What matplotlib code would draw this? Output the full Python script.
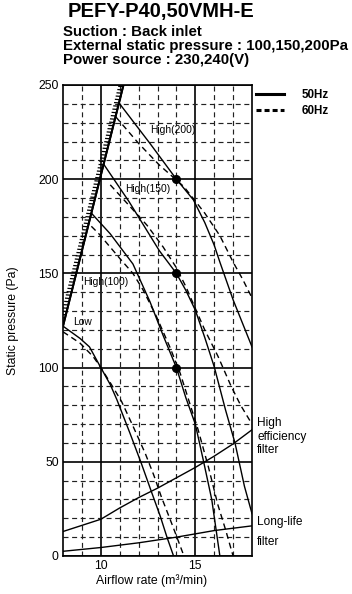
import numpy as np
import matplotlib
matplotlib.use("Agg")
import matplotlib.pyplot as plt
from matplotlib import patheffects
from matplotlib.lines import Line2D

plt.rcParams['font.family'] = ['Liberation Sans', 'DejaVu Sans']
plt.rcParams['lines.scale_dashes'] = False

# fan curves, solid = 50Hz, dashed = 60Hz
low_50_x = [8.0, 8.9, 9.4, 10.0, 10.5, 10.85, 11.55, 12.15, 12.7, 13.15, 13.5, 13.85]
low_50_y = [122, 115.5, 111, 100, 91, 83, 65, 49, 33.5, 21, 10, 0]
low_60_x = [8.0, 8.9, 9.6, 10.0, 10.5, 11.1, 11.7, 12.35, 12.8, 13.2, 13.8, 14.4]
low_60_y = [119, 113, 105.8, 100, 92, 82, 69, 54.5, 43, 31.5, 16, 0]

h100_50_x = [9.5, 10.5, 11.7, 12.6, 13.3, 14.0, 14.5, 15.0, 15.42, 15.87, 16.3]
h100_50_y = [182, 171, 155, 135, 117, 100, 84, 70, 51, 30, 0]
h100_60_x = [9.5, 9.9, 11.0, 11.7, 12.25, 12.95, 13.65, 14.2, 15.15, 15.7, 16.2, 16.6, 17.0]
h100_60_y = [175, 171, 158, 150, 141, 127, 111, 97, 67, 47, 27, 14, 0]

h150_50_x = [10.15, 11.5, 13.1, 14.0, 14.5, 15.0, 15.5, 16.0, 16.6, 17.1, 17.6, 18.0]
h150_50_y = [208, 188, 162, 150, 141, 130.5, 116, 100.5, 77.5, 60, 37, 22.5]
h150_60_x = [10.5, 11.5, 12.45, 13.3, 14.0, 14.5, 15.15, 15.5, 16.2, 16.9, 17.4, 18.0]
h150_60_y = [197, 186, 175.5, 164, 153, 143, 128, 120, 106, 90, 80, 70]

h200_50_x = [11.0, 12.6, 14.0, 14.9, 15.5, 16.0, 16.3, 17.0, 18.0]
h200_50_y = [240, 219, 200, 189, 177, 165, 156, 136, 111]
h200_60_x = [10.8, 12.0, 13.1, 14.4, 15.5, 16.3, 17.0, 17.5, 18.0]
h200_60_y = [233, 219, 207.5, 196, 182, 170, 156, 147, 137]

# limit line (hatched)
limit_x = [8.0, 11.2]
limit_y = [122, 250]

# rated points
dot_x = [14, 14, 14]
dot_y = [100, 150, 200]

# filter resistance curves
hef_x = [8, 10, 11, 12, 13, 14, 15, 16, 17, 18]
hef_y = [13, 19.5, 25.5, 31, 36, 41.5, 47, 53, 59.5, 67]
llf_x = [8, 10, 12, 14, 16, 18]
llf_y = [2.5, 4.5, 7, 10, 13.5, 16]

fig = plt.figure(figsize=(3.52, 5.94), dpi=100)
ax = fig.add_axes([63 / 352, 38 / 594, 189 / 352, 471 / 594])

ax.set_xlim(8, 18)
ax.set_ylim(0, 250)
ax.set_xticks([10, 15])
ax.set_xticks([9, 11, 12, 13, 14, 16, 17], minor=True)
ax.set_yticks([0, 50, 100, 150, 200, 250])
ax.set_yticks([10, 20, 30, 40, 60, 70, 80, 90, 110, 120, 130, 140,
               160, 170, 180, 190, 210, 220, 230, 240], minor=True)
ax.tick_params(which='both', length=0, labelsize=8.8, pad=3)
ax.grid(which='major', color='black', lw=1.2)
ax.grid(which='minor', color='#222222', lw=0.85, ls=(0, (3.6, 2.6)))
for s in ax.spines.values():
    s.set_linewidth(1.2)

dash = (0, (4.3, 2.9))
for xs, ys in [(low_50_x, low_50_y), (h100_50_x, h100_50_y),
               (h150_50_x, h150_50_y), (h200_50_x, h200_50_y)]:
    ax.plot(xs, ys, color='black', lw=1.0)
for xs, ys in [(low_60_x, low_60_y), (h100_60_x, h100_60_y),
               (h150_60_x, h150_60_y), (h200_60_x, h200_60_y)]:
    ax.plot(xs, ys, color='black', lw=1.0, ls=dash)

ax.plot(limit_x, limit_y, color='black', lw=1.4,
        path_effects=[patheffects.withTickedStroke(spacing=2.4, angle=100, length=1.3, linewidth=0.9),
                      patheffects.Normal()])

ax.plot(dot_x, dot_y, 'o', color='black', ms=5.5)

ax.plot(hef_x, hef_y, color='black', lw=1.0)
ax.plot(llf_x, llf_y, color='black', lw=1.0)

lbl = dict(fontsize=7.4, ha='center', va='center')
ax.text(13.82, 226, 'High(200)', **lbl)
ax.text(12.5, 195, 'High(150)', **lbl)
ax.text(10.27, 145.6, 'High(100)', **lbl)
ax.text(9.03, 124.4, 'Low', **lbl)

side = dict(fontsize=8.6, ha='left', va='center', clip_on=False)
ax.text(18.28, 63.2, 'High\nefficiency\nfilter', linespacing=1.16, **side)
ax.text(18.28, 18.2, 'Long-life', **side)
ax.text(18.28, 7.3, 'filter', **side)

ax.set_xlabel('Airflow rate (m³/min)', fontsize=8.8)
ax.xaxis.set_label_coords(0.466, -0.038)
ax.set_ylabel('Static pressure (Pa)', fontsize=8.8)
ax.yaxis.set_label_coords(-0.235, 0.5)

handles = [Line2D([], [], color='black', lw=2.2),
           Line2D([], [], color='black', lw=2.2, ls=(0, (3.6, 2.2)))]
fig.legend(handles, ['50Hz', '60Hz'], loc='upper left', bbox_to_anchor=(256 / 352, 1 - 89 / 594),
           frameon=False, handlelength=2.4, handletextpad=1.5, labelspacing=0.35,
           borderpad=0, borderaxespad=0, prop=dict(size=8.4, weight='bold'))

fig.text(161 / 352, 1 - 12 / 594, 'PEFY-P40,50VMH-E', fontsize=14.5, fontweight='bold',
         ha='center', va='center')
fig.text(63 / 352, 1 - 32 / 594, 'Suction : Back inlet', fontsize=10.8, fontweight='bold', va='center')
fig.text(63 / 352, 1 - 46 / 594, 'External static pressure : 100,150,200Pa', fontsize=10.8,
         fontweight='bold', va='center')
fig.text(63 / 352, 1 - 60 / 594, 'Power source : 230,240(V)', fontsize=10.8, fontweight='bold',
         va='center')

fig.savefig('out.png', dpi=100)
